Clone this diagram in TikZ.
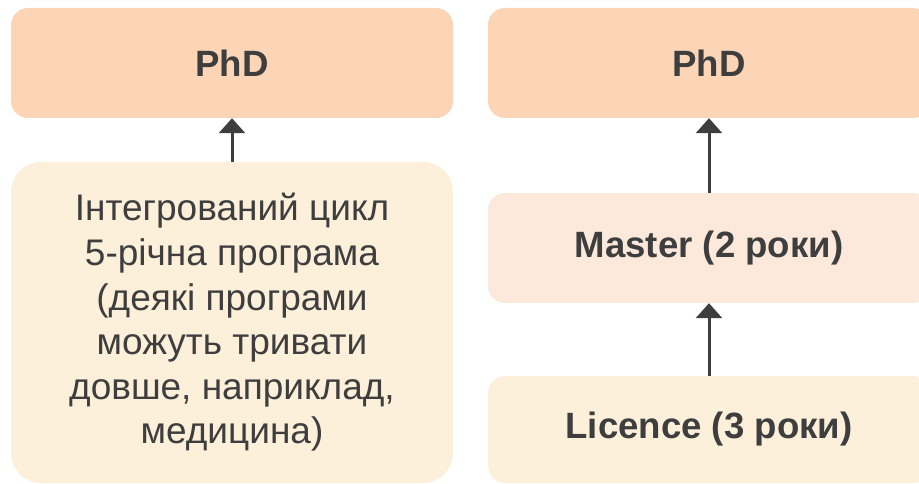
\documentclass[tikz,border=0pt]{standalone}
\usepackage{fontspec}
\setmainfont{Liberation Sans}
\usetikzlibrary{arrows.meta}
\definecolor{phdfill}{HTML}{FBD5B5}
\definecolor{masterfill}{HTML}{FDE9DB}
\definecolor{creamfill}{HTML}{FCF0DA}
\definecolor{ink}{HTML}{3E3E3E}
\tikzset{
  box/.style={rectangle, rounded corners=17pt, inner sep=0pt, text=ink, align=center,
    font=\fontsize{37}{44.6}\selectfont},
  boldbox/.style={box, font=\fontsize{36.6}{44.6}\selectfont\bfseries},
  uparrow/.style={draw=ink, line width=3pt, -{Triangle[width=26pt,length=15pt]}}
}
\begin{document}
\begin{tikzpicture}[x=1pt,y=-1pt]
\useasboundingbox (0,0) rectangle (919,484);
\node[boldbox, fill=phdfill, minimum width=442pt, minimum height=110pt] (phdL) at (232,63) {PhD};
\node[boldbox, fill=phdfill, minimum width=442pt, minimum height=110pt] (phdR) at (709,63) {PhD};
\node[box, fill=creamfill, rounded corners=30pt, minimum width=442pt, minimum height=321pt] (integ) at (232,322.5)
  {Інтегрований цикл\\5-річна програма\\(деякі програми\\можуть тривати\\довше, наприклад,\\медицина)};
\node[boldbox, fill=masterfill, minimum width=442pt, minimum height=110pt] (master) at (709,248) {Master (2 роки)};
\node[boldbox, fill=creamfill, minimum width=442pt, minimum height=107pt] (lic) at (709,429.5) {Licence (3 роки)};
\draw[uparrow] (integ.north) -- (phdL.south);
\draw[uparrow] (master.north) -- (phdR.south);
\draw[uparrow] (lic.north) -- (master.south);
\end{tikzpicture}
\end{document}
